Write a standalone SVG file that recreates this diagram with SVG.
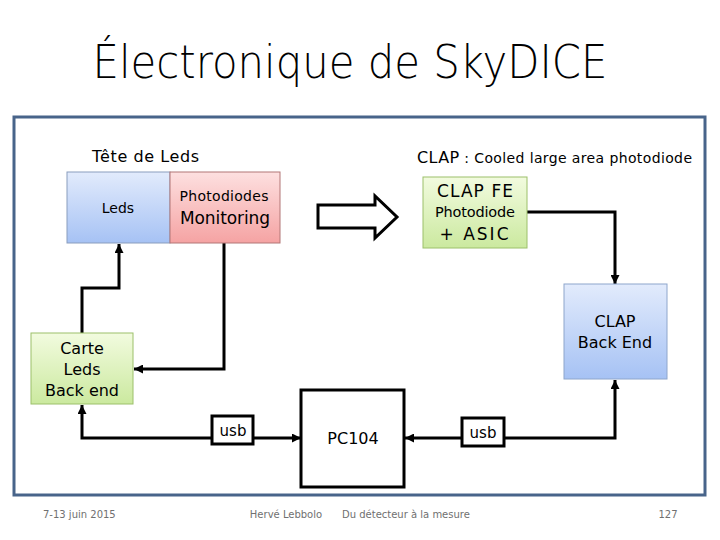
<svg xmlns="http://www.w3.org/2000/svg" width="720" height="540" viewBox="0 0 720 540">
<style>
text{font-family:"DejaVu Sans","Liberation Sans",sans-serif;fill:#000}
.c{text-anchor:middle}
.ln{fill:none;stroke:#000;stroke-width:3;stroke-linejoin:miter}
.box{fill:#fff;stroke:#000;stroke-width:3}
.ft{font-size:10px;fill:#707070}
</style>
<defs>
<linearGradient id="gBlue" x1="0" y1="0" x2="0" y2="1"><stop offset="0" stop-color="#e2ebfc"/><stop offset="1" stop-color="#a6c2f4"/></linearGradient>
<linearGradient id="gPink" x1="0" y1="0" x2="0" y2="1"><stop offset="0" stop-color="#fde0e0"/><stop offset="1" stop-color="#f5a3a3"/></linearGradient>
<linearGradient id="gGreen" x1="0" y1="0" x2="0" y2="1"><stop offset="0" stop-color="#f2fbdf"/><stop offset="1" stop-color="#cbe99f"/></linearGradient>
<marker id="ah" viewBox="0 0 10 10" markerUnits="userSpaceOnUse" markerWidth="9" markerHeight="9" refX="10" refY="5" orient="auto"><path d="M0,0 L10,5 L0,10 z" fill="#000"/></marker>
</defs>
<rect width="720" height="540" fill="#fff"/>
<text x="350" y="78" class="c" font-size="46" font-weight="300" textLength="515" lengthAdjust="spacingAndGlyphs">Électronique de SkyDICE</text>
<rect x="14" y="117" width="691" height="378" fill="#fff" stroke="#48648a" stroke-width="3"/>
<text x="92" y="162" font-size="16" textLength="107">Tête de Leds</text>
<text x="417" y="163" font-size="16" textLength="275">CLAP<tspan font-size="14"> : Cooled large area photodiode</tspan></text>
<g id="connectors">
<path class="ln" d="M224,243 V369 H134" marker-end="url(#ah)"/>
<path class="ln" d="M82,333 V288 H119 V244" marker-end="url(#ah)"/>
<path class="ln" d="M527,212 H615 V284" marker-end="url(#ah)"/>
<path class="ln" d="M253,438 H301" marker-end="url(#ah)"/>
<path class="ln" d="M212,438 H82 V405" marker-end="url(#ah)"/>
<path class="ln" d="M462,438 H405" marker-end="url(#ah)"/>
<path class="ln" d="M504,438 H615 V380" marker-end="url(#ah)"/>
<polygon points="318,205 375,205 375,196 397,217 375,238 375,228 318,228" fill="#fff" stroke="#000" stroke-width="3"/>
</g>
<g id="leds">
<rect x="67" y="172" width="103" height="71" fill="url(#gBlue)" stroke="#8a9dbd" stroke-width="1"/>
<text x="118" y="213" class="c" font-size="14">Leds</text>
</g>
<g id="photodiodes">
<rect x="170" y="172" width="110" height="71" fill="url(#gPink)" stroke="#b27676" stroke-width="1"/>
<text x="224" y="201" class="c" font-size="14" textLength="89">Photodiodes</text>
<text x="225" y="224" class="c" font-size="17" textLength="90">Monitoring</text>
</g>
<g id="clapfe">
<rect x="423" y="177" width="104" height="71" fill="url(#gGreen)" stroke="#9cc06a" stroke-width="1"/>
<text x="475" y="197" class="c" font-size="17" textLength="76">CLAP  FE</text>
<text x="475" y="217" class="c" font-size="14.5" textLength="80">Photodiode</text>
<text x="474" y="240" class="c" font-size="17" textLength="69">+  ASIC</text>
</g>
<g id="clapbe">
<rect x="564" y="284" width="103" height="95" fill="url(#gBlue)" stroke="#8ea6cc" stroke-width="1"/>
<text x="615" y="327" class="c" font-size="16">CLAP</text>
<text x="615" y="348" class="c" font-size="16">Back End</text>
</g>
<g id="carte">
<rect x="31" y="333" width="102" height="71" fill="url(#gGreen)" stroke="#9cc06a" stroke-width="1"/>
<text x="82" y="354" class="c" font-size="16">Carte</text>
<text x="82" y="375" class="c" font-size="16">Leds</text>
<text x="82" y="396" class="c" font-size="16">Back end</text>
</g>
<g id="usb1">
<rect class="box" x="212" y="416" width="41" height="28"/>
<text x="233" y="436" class="c" font-size="15">usb</text>
</g>
<g id="pc104">
<rect class="box" x="301" y="390" width="103" height="97"/>
<text x="353" y="444" class="c" font-size="16">PC104</text>
</g>
<g id="usb2">
<rect class="box" x="462" y="418" width="42" height="28"/>
<text x="483" y="438" class="c" font-size="15">usb</text>
</g>
<text x="43" y="518" class="ft">7-13 juin 2015</text>
<text x="286" y="518" class="ft c">Hervé Lebbolo</text>
<text x="342" y="518" class="ft">Du détecteur à la mesure</text>
<text x="668" y="518" class="ft c">127</text>
</svg>
